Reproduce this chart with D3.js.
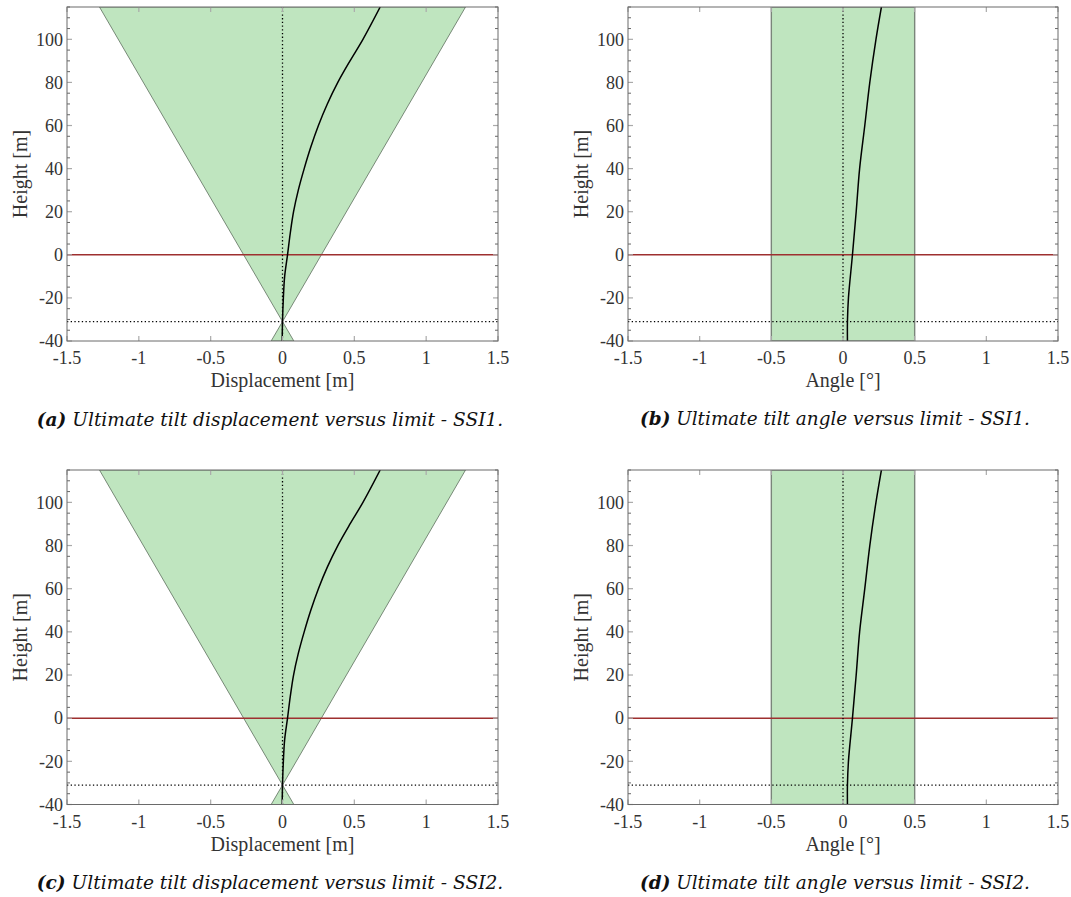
<!DOCTYPE html>
<html>
<head>
<meta charset="utf-8">
<script src="https://cdn.jsdelivr.net/npm/d3@7"></script>
<style>
  html, body { margin: 0; padding: 0; background: #fff; }
  svg { display: block; }
  .ax { font-family: "Liberation Serif", "Times New Roman", Times, serif; }
  .cap { font-family: "DejaVu Serif", serif; font-style: italic; }
</style>
</head>
<body>
<svg id="chart" width="1071" height="897"></svg>
<script>
// ---------------- DATA ----------------
const xTicks = [-1.5, -1, -0.5, 0, 0.5, 1, 1.5];
const yTicks = [-40, -20, 0, 20, 40, 60, 80, 100];
const yMinorStep = 5;
const xDomain = [-1.5, 1.5];
const yDomain = [-40, 115];

// Displacement profile [m] vs height [m]
const dispHeight = [-40, -31, -20, -10, 0, 10, 20, 30, 40, 50, 60, 70, 80, 90, 100, 115];
const dispSSI1   = [-0.002, 0, 0.006, 0.015, 0.035, 0.054, 0.077, 0.11, 0.151, 0.197, 0.25, 0.312, 0.385, 0.47, 0.56, 0.68];
const dispSSI2   = [-0.002, 0, 0.006, 0.015, 0.035, 0.054, 0.077, 0.11, 0.151, 0.197, 0.25, 0.312, 0.385, 0.47, 0.56, 0.68];

// Displacement limit envelope (two triangles meeting at the rotation point)
const limitUpperX = [-1.274, 1.274, 0];
const limitUpperY = [115, 115, -31];
const limitLowerX = [-0.079, 0.079, 0];
const limitLowerY = [-40, -40, -31];

// Tilt angle profile [deg] vs height [m]
const angHeight = [-40, -31, -20, 0, 20, 40, 60, 80, 100, 115];
const angSSI1   = [0.031, 0.031, 0.038, 0.066, 0.092, 0.116, 0.152, 0.187, 0.23, 0.268];
const angSSI2   = [0.031, 0.031, 0.038, 0.066, 0.092, 0.116, 0.152, 0.187, 0.23, 0.268];
const angleLimit = [-0.5, 0.5];

const seaLevel = 0;
const mudline = -31;

const captions = [
  ["(a)", "Ultimate tilt displacement versus limit - SSI1."],
  ["(b)", "Ultimate tilt angle versus limit - SSI1."],
  ["(c)", "Ultimate tilt displacement versus limit - SSI2."],
  ["(d)", "Ultimate tilt angle versus limit - SSI2."]
];
const xLabels = ["Displacement [m]", "Angle [°]", "Displacement [m]", "Angle [°]"];

// ---------------- LAYOUT ----------------
const svg = d3.select("#chart");
const panels = [
  {x0: 67,  x1: 498,  y0: 7,   y1: 341,   kind: "disp",  hx: dispHeight, vx: dispSSI1, capW: 467},
  {x0: 628, x1: 1058, y0: 7,   y1: 341,   kind: "angle", hx: angHeight,  vx: angSSI1,  capW: 390},
  {x0: 67,  x1: 498,  y0: 470, y1: 804.5, kind: "disp",  hx: dispHeight, vx: dispSSI2, capW: 467},
  {x0: 628, x1: 1058, y0: 470, y1: 804.5, kind: "angle", hx: angHeight,  vx: angSSI2,  capW: 390}
];

const greenFill = "#bfe5bf";

panels.forEach((p, i) => {
  const x = d3.scaleLinear().domain(xDomain).range([p.x0, p.x1]);
  const y = d3.scaleLinear().domain(yDomain).range([p.y1, p.y0]);
  const g = svg.append("g");
  const clipId = "clip" + i;
  svg.append("clipPath").attr("id", clipId).append("rect")
    .attr("x", p.x0).attr("y", p.y0).attr("width", p.x1 - p.x0).attr("height", p.y1 - p.y0);
  const plot = g.append("g").attr("clip-path", `url(#${clipId})`);

  // Limits
  if (p.kind === "disp") {
    const tri = (xs, ys) => xs.map((v, k) => [x(v), y(ys[k])]);
    [tri(limitUpperX, limitUpperY), tri(limitLowerX, limitLowerY)].forEach(pts => {
      plot.append("path")
        .attr("d", d3.line()(pts) + "Z")
        .attr("fill", greenFill)
        .attr("stroke", "#5d6e5d")
        .attr("stroke-width", 0.8);
    });
  } else {
    plot.append("rect")
      .attr("x", x(angleLimit[0])).attr("y", y(yDomain[1]))
      .attr("width", x(angleLimit[1]) - x(angleLimit[0]))
      .attr("height", y(yDomain[0]) - y(yDomain[1]))
      .attr("fill", greenFill)
      .attr("stroke", "#7a857a")
      .attr("stroke-width", 1.4);
  }

  // sea level line
  plot.append("line")
    .attr("x1", p.x0).attr("x2", p.x1)
    .attr("y1", y(seaLevel)).attr("y2", y(seaLevel))
    .attr("stroke", "#9e3030").attr("stroke-width", 1.5);

  // dotted reference lines
  plot.append("line")
    .attr("x1", x(0)).attr("x2", x(0))
    .attr("y1", p.y0).attr("y2", p.y1)
    .attr("stroke", "#000").attr("stroke-width", 1.3)
    .attr("stroke-dasharray", "1.3,2.4");
  plot.append("line")
    .attr("x1", p.x0).attr("x2", p.x1)
    .attr("y1", y(mudline)).attr("y2", y(mudline))
    .attr("stroke", "#000").attr("stroke-width", 1.3)
    .attr("stroke-dasharray", "1.3,2.4");

  // profile curve
  const pts = p.hx.map((h, k) => [p.vx[k], h]);
  plot.append("path")
    .attr("d", d3.line().x(d => x(d[0])).y(d => y(d[1])).curve(d3.curveCatmullRom.alpha(0.5))(pts))
    .attr("fill", "none")
    .attr("stroke", "#000")
    .attr("stroke-width", 1.5);

  // Ticks
  const minor = d3.range(yDomain[0], yDomain[1] + 0.001, yMinorStep).filter(v => !yTicks.includes(v));
  const tg = g.append("g");
  minor.forEach(v => {
    tg.append("line").attr("x1", p.x0).attr("x2", p.x0 + 3).attr("y1", y(v)).attr("y2", y(v))
      .attr("stroke", "#555").attr("stroke-width", 0.9);
    tg.append("line").attr("x1", p.x1).attr("x2", p.x1 - 3).attr("y1", y(v)).attr("y2", y(v))
      .attr("stroke", "#555").attr("stroke-width", 0.9);
  });
  yTicks.forEach(v => {
    tg.append("line").attr("x1", p.x0).attr("x2", p.x0 + 5).attr("y1", y(v)).attr("y2", y(v))
      .attr("stroke", "#aaa").attr("stroke-width", 1.2);
    tg.append("line").attr("x1", p.x1).attr("x2", p.x1 - 5).attr("y1", y(v)).attr("y2", y(v))
      .attr("stroke", "#aaa").attr("stroke-width", 1.2);
  });
  xTicks.forEach(v => {
    tg.append("line").attr("x1", x(v)).attr("x2", x(v)).attr("y1", p.y1).attr("y2", p.y1 - 5)
      .attr("stroke", "#aaa").attr("stroke-width", 1.2);
    tg.append("line").attr("x1", x(v)).attr("x2", x(v)).attr("y1", p.y0).attr("y2", p.y0 + 5)
      .attr("stroke", "#aaa").attr("stroke-width", 1.2);
  });

  // Frame
  g.append("rect")
    .attr("x", p.x0).attr("y", p.y0).attr("width", p.x1 - p.x0).attr("height", p.y1 - p.y0)
    .attr("fill", "none").attr("stroke", "#6a6a6a").attr("stroke-width", 1);

  // Tick labels
  const fmt = v => String(v);
  yTicks.forEach(v => {
    g.append("text").attr("class", "ax").attr("x", p.x0 - 4).attr("y", y(v)).attr("dy", "0.35em")
      .attr("text-anchor", "end").attr("font-size", 18)
      .attr("fill", "#333").text(fmt(v));
  });
  xTicks.forEach(v => {
    g.append("text").attr("class", "ax").attr("x", x(v)).attr("y", p.y1 + 17).attr("dy", "0.35em")
      .attr("text-anchor", "middle").attr("font-size", 18)
      .attr("fill", "#333").text(fmt(v));
  });

  // Axis titles
  g.append("text").attr("class", "ax")
    .attr("transform", `translate(${p.x0 - 47},${(p.y0 + p.y1) / 2}) rotate(-90)`)
    .attr("dy", "0.35em")
    .attr("text-anchor", "middle").attr("font-size", 20)
    .attr("fill", "#333").text("Height [m]");
  g.append("text").attr("class", "ax")
    .attr("x", (p.x0 + p.x1) / 2).attr("y", p.y1 + 39).attr("dy", "0.35em")
    .attr("text-anchor", "middle").attr("font-size", 20)
    .attr("fill", "#333").text(xLabels[i]);

  // Caption
  const cap = g.append("text").attr("class", "cap")
    .attr("x", i % 2 === 0 ? 270 : 835).attr("y", p.y1 + 78).attr("dy", "0.35em")
    .attr("text-anchor", "middle")
    .attr("font-size", 18).attr("fill", "#111");
  cap.append("tspan").attr("font-weight", "bold").text(captions[i][0]);
  cap.append("tspan").text(" " + captions[i][1]);
  const len = cap.node().getComputedTextLength();
  cap.attr("font-size", 18 * p.capW / len);
});
</script>
</body>
</html>
